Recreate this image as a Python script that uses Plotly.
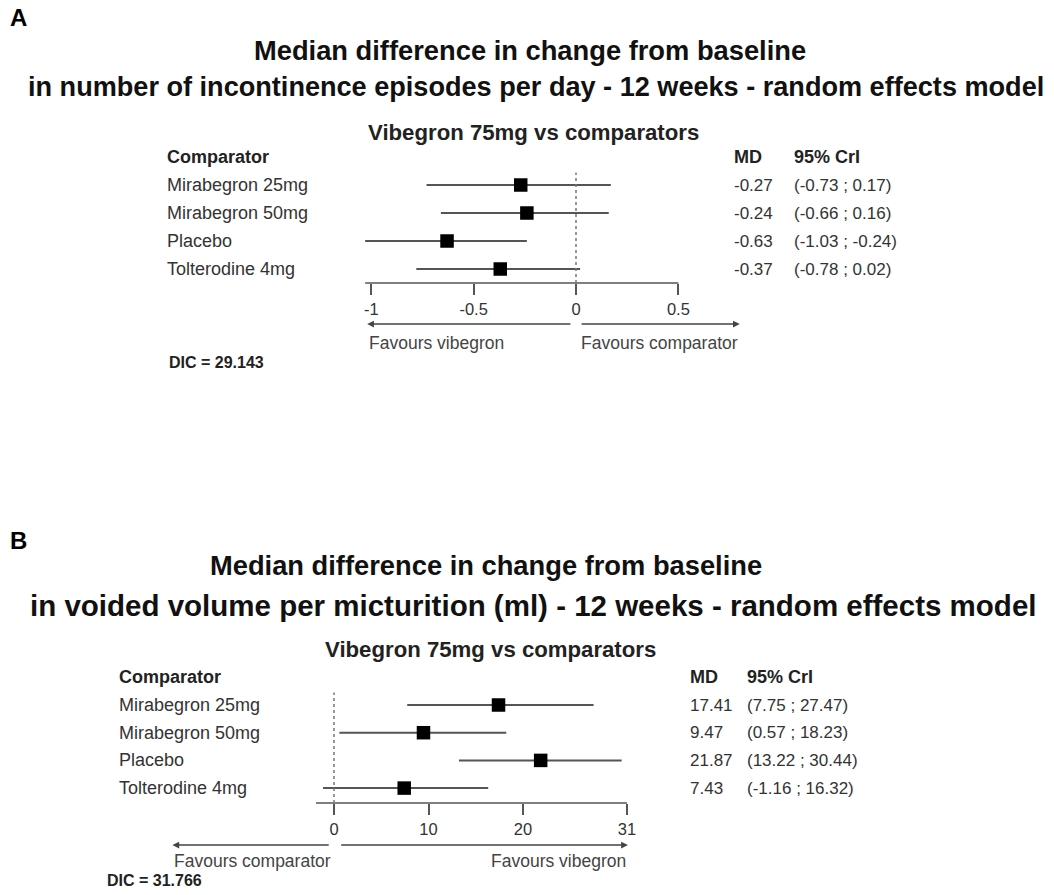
import plotly.graph_objects as go

W, H = 1054, 895
FONT = "Liberation Sans, Arial, sans-serif"

comparators = ["Mirabegron 25mg", "Mirabegron 50mg", "Placebo", "Tolterodine 4mg"]

# Panel A: incontinence episodes per day
a_md = [-0.27, -0.24, -0.63, -0.37]
a_lo = [-0.73, -0.66, -1.03, -0.78]
a_hi = [0.17, 0.16, -0.24, 0.02]
a_tickvals = [-1, -0.5, 0, 0.5]
a_ticktext = ["-1", "-0.5", "0", "0.5"]
a_axis_span = [-1.03, 0.5]
a_arrow_left = [-0.02, -1.02]   # tail, head
a_arrow_right = [0.02, 0.80]
a_dic = "29.143"
a_title = ["Median difference in change from baseline",
           "in number of incontinence episodes per day - 12 weeks - random effects model"]

# Panel B: voided volume per micturition
b_md = [17.41, 9.47, 21.87, 7.43]
b_lo = [7.75, 0.57, 13.22, -1.16]
b_hi = [27.47, 18.23, 30.44, 16.32]
b_tickvals = [0, 10, 20, 31]
b_ticktext = ["0", "10", "20", "31"]
b_axis_span = [-1.9, 31]
b_arrow_left = [-0.4, -17.1]
b_arrow_right = [0.6, 31.1]
b_dic = "31.766"
b_title = ["Median difference in change from baseline",
           "in voided volume per micturition (ml) - 12 weeks - random effects model"]

subtitle = "Vibegron 75mg vs comparators"


def px(x):
    return x / W


def py(y):
    return 1 - y / H


fig = go.Figure()
annotations = []
shapes = []

panels = [
    dict(key="", md=a_md, lo=a_lo, hi=a_hi, tv=a_tickvals, tt=a_ticktext,
         span=a_axis_span, al=a_arrow_left, ar=a_arrow_right, dic=a_dic,
         title=a_title, letter="A", letter_y=17, title_y=[50, 87], title_x=[530, 536],
         title_size=[27.3, 27.1],
         sub_x=533, sub_y=132, zero_px=576, scale=204.7, dom_x=[300, 800],
         row0=185, step=28, axis_y=283, top_y=170, label_x=165, md_x=732, cri_x=792,
         arrow_y=324, fav_y=343, dic_x=167, dic_y=363),
    dict(key="2", md=b_md, lo=b_lo, hi=b_hi, tv=b_tickvals, tt=b_ticktext,
         span=b_axis_span, al=b_arrow_left, ar=b_arrow_right, dic=b_dic,
         title=b_title, letter="B", letter_y=540, title_y=[565, 605], title_x=[486, 533],
         title_size=[27.3, 29.5],
         sub_x=490, sub_y=649, zero_px=334, scale=9.45, dom_x=[150, 660],
         row0=705, step=27.7, axis_y=803, top_y=690, label_x=117, md_x=688, cri_x=745,
         arrow_y=845, fav_y=861, dic_x=105, dic_y=880),
]

for p in panels:
    k = p["key"]
    xa, ya = "x" + k, "y" + k
    yd = ya + " domain"
    rows = list(range(len(comparators)))

    # credible-interval whiskers
    xs, ys = [], []
    for i, (lo, hi) in enumerate(zip(p["lo"], p["hi"])):
        xs += [lo, hi, None]
        ys += [i, i, None]
    fig.add_trace(go.Scatter(x=xs, y=ys, mode="lines", xaxis=xa, yaxis=ya,
                             line=dict(color="#555555", width=2), hoverinfo="skip",
                             showlegend=False))
    # point estimates
    fig.add_trace(go.Scatter(x=p["md"], y=rows, mode="markers", xaxis=xa, yaxis=ya,
                             marker=dict(symbol="square", size=13.5, color="black"),
                             showlegend=False))

    # axis layout
    lo_r = (p["dom_x"][0] - p["zero_px"]) / p["scale"]
    hi_r = (p["dom_x"][1] - p["zero_px"]) / p["scale"]
    y_bot = (p["axis_y"] - p["row0"]) / p["step"]
    y_top = (p["top_y"] - p["row0"]) / p["step"]
    fig.update_layout(**{
        "xaxis" + k: dict(domain=[px(p["dom_x"][0]), px(p["dom_x"][1])],
                          range=[lo_r, hi_r], anchor=ya, showgrid=False,
                          zeroline=False, showline=False, ticks="outside",
                          ticklen=11, tickwidth=1.5, tickcolor="#555555",
                          tickvals=p["tv"], ticktext=p["tt"],
                          tickfont=dict(size=16.5, color="#333333", family=FONT),
                          fixedrange=True),
        "yaxis" + k: dict(domain=[py(p["axis_y"]), py(p["top_y"])],
                          range=[y_bot, y_top], anchor=xa, visible=False,
                          fixedrange=True),
    })

    # axis line and null line
    shapes.append(dict(type="line", xref=xa, yref=yd,
                       x0=p["span"][0], x1=p["span"][1], y0=0, y1=0,
                       line=dict(color="#555555", width=1.5)))
    shapes.append(dict(type="line", xref=xa, yref=ya, x0=0, x1=0,
                       y0=y_bot, y1=-0.45,
                       line=dict(color="#777777", width=1.5, dash="dot")))

    # positions relative to the panel's y domain (0 = axis line, 1 = top)
    dom_h = p["axis_y"] - p["top_y"]

    def dom(pix):
        return (p["axis_y"] - pix) / dom_h

    # direction arrows
    for tail, head in (p["al"], p["ar"]):
        annotations.append(dict(xref=xa, yref=yd, axref=xa, ayref=yd,
                                x=head, y=dom(p["arrow_y"]), ax=tail, ay=dom(p["arrow_y"]),
                                text="", showarrow=True, arrowhead=2, arrowsize=0.9,
                                arrowwidth=1.5, arrowcolor="#444444"))
    fav_font = dict(size=17.5, color="#444444", family=FONT)
    left_text = "Favours vibegron" if k == "" else "Favours comparator"
    right_text = "Favours comparator" if k == "" else "Favours vibegron"
    annotations.append(dict(xref=xa, yref=yd, x=p["al"][1], y=dom(p["fav_y"]),
                            text=left_text, showarrow=False, xanchor="left",
                            yanchor="middle", font=fav_font))
    annotations.append(dict(xref=xa, yref=yd, x=p["ar"][1], y=dom(p["fav_y"]),
                            text=right_text, showarrow=False, xanchor="right",
                            yanchor="middle", font=fav_font))

    # table: header row sits one row step above the first comparator
    head_font = dict(size=18, color="#222222", family=FONT)
    label_font = dict(size=18, color="#333333", family=FONT)
    cell_font = dict(size=17, color="#333333", family=FONT)
    head_y = dom(p["row0"] - p["step"])
    for x_pos, txt in ((p["label_x"], "<b>Comparator</b>"), (p["md_x"], "<b>MD</b>"),
                       (p["cri_x"], "<b>95% CrI</b>")):
        annotations.append(dict(xref="paper", yref=yd, x=px(x_pos), y=head_y, text=txt,
                                showarrow=False, xanchor="left", yanchor="middle",
                                font=head_font))
    for i, name in enumerate(comparators):
        md, lo, hi = p["md"][i], p["lo"][i], p["hi"][i]
        for x_pos, txt, fnt in ((p["label_x"], name, label_font),
                                (p["md_x"], f"{md:.2f}", cell_font),
                                (p["cri_x"], f"({lo:.2f} ; {hi:.2f})", cell_font)):
            annotations.append(dict(xref="paper", yref=ya, x=px(x_pos), y=i, text=txt,
                                    showarrow=False, xanchor="left", yanchor="middle",
                                    font=fnt))

    # titles
    annotations.append(dict(xref="paper", yref="paper", x=px(8), y=py(p["letter_y"]),
                            text="<b>" + p["letter"] + "</b>", showarrow=False,
                            xanchor="left", yanchor="middle",
                            font=dict(size=24, color="black", family=FONT)))
    for line, tx, ty, ts in zip(p["title"], p["title_x"], p["title_y"], p["title_size"]):
        annotations.append(dict(xref="paper", yref="paper", x=px(tx), y=py(ty),
                                text="<b>" + line + "</b>", showarrow=False,
                                xanchor="center", yanchor="middle",
                                font=dict(size=ts, color="#111111", family=FONT)))
    annotations.append(dict(xref="paper", yref="paper", x=px(p["sub_x"]), y=py(p["sub_y"]),
                            text="<b>" + subtitle + "</b>", showarrow=False,
                            xanchor="center", yanchor="middle",
                            font=dict(size=22.2, color="#222222", family=FONT)))
    annotations.append(dict(xref="paper", yref="paper", x=px(p["dic_x"]), y=py(p["dic_y"]),
                            text="<b>DIC = " + p["dic"] + "</b>", showarrow=False,
                            xanchor="left", yanchor="middle",
                            font=dict(size=16, color="#222222", family=FONT)))

fig.update_layout(width=W, height=H, autosize=False,
                  margin=dict(l=0, r=0, t=0, b=0),
                  paper_bgcolor="white", plot_bgcolor="white",
                  font=dict(family=FONT), showlegend=False,
                  annotations=annotations, shapes=shapes)

fig.write_html("out.html")
